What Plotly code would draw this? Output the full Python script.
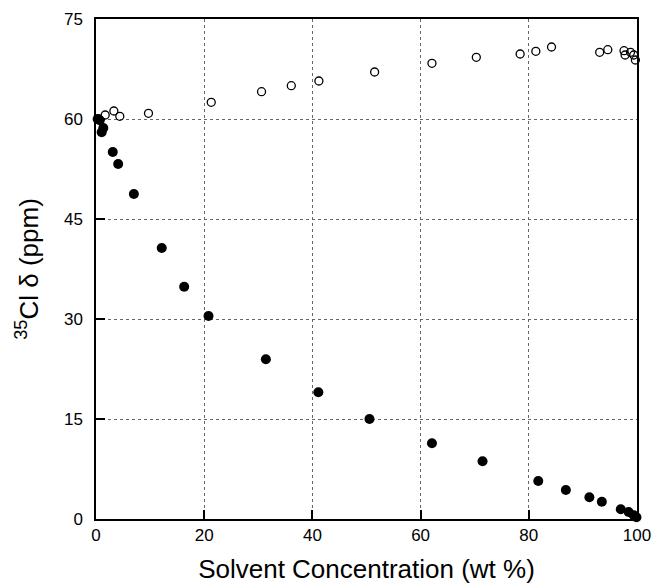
import plotly.graph_objects as go

# Open circles (upper series)
open_x = [0.5, 1.7, 3.3, 4.4, 9.7, 21.3, 30.6, 36.1, 41.2, 51.5, 62.1, 70.3, 78.4, 81.3, 84.2, 93.1, 94.6, 97.6, 97.8, 98.8, 99.4, 99.7]
open_y = [60.0, 60.6, 61.2, 60.4, 60.85, 62.5, 64.1, 65.0, 65.7, 67.05, 68.35, 69.25, 69.75, 70.15, 70.8, 70.0, 70.4, 70.25, 69.6, 70.0, 69.6, 68.85]

# Filled circles (lower series)
fill_x = [0.3, 0.7, 1.35, 1.05, 3.1, 4.1, 7.0, 12.15, 16.3, 20.8, 31.4, 41.1, 50.55, 62.1, 71.45, 81.75, 86.85, 91.2, 93.5, 97.0, 98.45, 99.4, 99.9]
fill_y = [60.0, 59.8, 58.65, 58.0, 55.05, 53.25, 48.75, 40.65, 34.85, 30.45, 23.95, 19.0, 15.0, 11.35, 8.65, 5.7, 4.35, 3.25, 2.6, 1.45, 1.05, 0.55, 0.25]

x_ticks = [0, 20, 40, 60, 80, 100]
y_ticks = [0, 15, 30, 45, 60, 75]

fig = go.Figure()
fig.add_trace(go.Scatter(
    x=open_x, y=open_y, mode="markers",
    marker=dict(symbol="circle-open", size=8, color="black", line=dict(width=1.3, color="black")),
    cliponaxis=False, showlegend=False))
fig.add_trace(go.Scatter(
    x=fill_x, y=fill_y, mode="markers",
    marker=dict(symbol="circle", size=10, color="black"),
    cliponaxis=False, showlegend=False))

font_family = "Liberation Sans, Arial, sans-serif"
fig.update_layout(
    width=653, height=584,
    margin=dict(l=96, r=16, t=19, b=65),
    paper_bgcolor="white", plot_bgcolor="white",
    font=dict(family=font_family, color="black"),
)
fig.update_xaxes(
    range=[0, 100], tickvals=x_ticks, ticktext=[str(v) for v in x_ticks],
    showline=True, linecolor="black", linewidth=1.5, mirror=True,
    ticks="inside", ticklen=9, tickcolor="black", tickwidth=1.5,
    showgrid=True, gridcolor="#666666", griddash="dot", gridwidth=1,
    zeroline=False, tickfont=dict(size=17), automargin=False,
    title=dict(text="Solvent Concentration (wt %)", font=dict(size=26), standoff=16),
)
fig.update_yaxes(
    range=[0, 75], tickvals=y_ticks, ticktext=[str(v) for v in y_ticks],
    showline=True, linecolor="black", linewidth=1.5, mirror=True,
    ticks="inside", ticklen=9, tickcolor="black", tickwidth=1.5,
    showgrid=True, gridcolor="#666666", griddash="dot", gridwidth=1,
    zeroline=False, tickfont=dict(size=17), automargin=False,
    ticklabelstandoff=8,
    title=dict(text="<sup>35</sup>Cl δ (ppm)", font=dict(size=26), standoff=18),
)
fig.write_html("out.html")
